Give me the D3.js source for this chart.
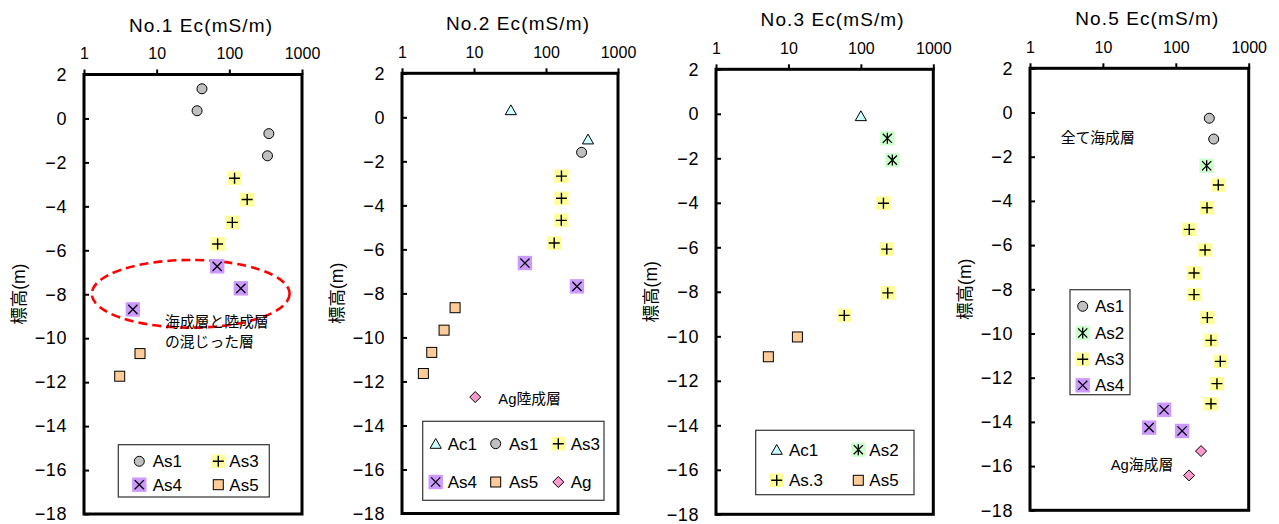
<!DOCTYPE html>
<html><head><meta charset="utf-8">
<script src="https://cdn.jsdelivr.net/npm/d3@7"></script>
<style>
body{margin:0;background:#fff}
text{font-family:"Liberation Sans","Noto Sans CJK JP",sans-serif;fill:#000}
</style>
</head><body>
<svg id="c" width="1279" height="524"></svg>
<script>
// ---------- data ----------
const panelNames = ["No.1", "No.2", "No.3", "No.5"];
const xTickValues = [1, 10, 100, 1000];
const yTickValues = [2, 0, -2, -4, -6, -8, -10, -12, -14, -16, -18];
const axisTitleX = "Ec(mS/m)";
const axisTitleY = "標高(m)";

// [Ec (mS/m), elevation (m)]
const no1_As1 = [[42, 1.35], [36, 0.35], [350, -0.69], [335, -1.70]];
const no1_As3 = [[118, -2.72], [176, -3.69], [110, -4.73], [69, -5.71]];
const no1_As4 = [[68, -6.73], [144, -7.73], [4.7, -8.69]];
const no1_As5 = [[5.9, -10.70], [3.1, -11.73]];

const no2_Ac1 = [[32.5, 0.33], [383, -1.0]];
const no2_As1 = [[312, -1.59]];
const no2_As3 = [[164, -2.67], [164, -3.68], [163, -4.68], [130, -5.71]];
const no2_As4 = [[51, -6.62], [269, -7.68]];
const no2_As5 = [[5.46, -8.65], [3.84, -9.67], [2.59, -10.68], [1.98, -11.64]];
const no2_Ag  = [[10.4, -12.71]];

const no3_Ac1 = [[100, -0.1]];
const no3_As2 = [[232, -1.10], [272, -2.08]];
const no3_As3 = [[205, -4.02], [228, -6.08], [235, -8.05], [59, -9.06]];
const no3_As5 = [[13.3, -10.03], [5.28, -10.92]];

const no5_As1 = [[288, -0.26], [331, -1.20]];
const no5_As2 = [[265, -2.41]];
const no5_As3 = [[383, -3.28], [268, -4.31], [153, -5.29], [252, -6.22], [178, -7.26], [178, -8.24],
                 [271, -9.28], [304, -10.31], [408, -11.26], [367, -12.27], [304, -13.18]];
const no5_As4 = [[69, -13.45], [43, -14.26], [122, -14.41]];
const no5_Ag  = [[222, -15.32], [152, -16.42]];

// mixed-layer zone of No.1 (Ec range, elevation range)
const no1_mixedZone = [1.28, 675, -6.44, -9.52];

// ---------- styles ----------
const markerStyle = {
  Ac1: "triangle", As1: "circle", As2: "asterisk", As3: "plus", "As.3": "plus",
  As4: "cross", As5: "square", Ag: "diamond"
};

// ---------- layout ----------
const panels = [
  { name: panelNames[0], left: 84, right: 302, top: 74.5, bottom: 514,
    series: [["As1", no1_As1], ["As3", no1_As3], ["As4", no1_As4], ["As5", no1_As5]],
    legendBox: [118.3, 444.7, 151, 52.3],
    legend: [["As1", 139.3, 152.7, 461.3], ["As3", 218.3, 229.3, 461.3],
             ["As4", 139.3, 152.7, 484.7], ["As5", 218.3, 229.3, 484.7]],
    notes: [["海成層と陸成層", 165, 322], ["の混じった層", 165, 341.5]] },
  { name: panelNames[1], left: 402, right: 618, top: 73.3, bottom: 513.5,
    series: [["Ac1", no2_Ac1], ["As1", no2_As1], ["As3", no2_As3], ["As4", no2_As4], ["As5", no2_As5], ["Ag", no2_Ag]],
    legendBox: [422.7, 421.3, 181.3, 79],
    legend: [["Ac1", 435.7, 447.7, 443.7], ["As1", 495.7, 509, 443.7], ["As3", 558.3, 570.7, 443.7],
             ["As4", 435.7, 447.7, 482], ["As5", 495.7, 509, 482], ["Ag", 558.3, 570.7, 482]],
    notes: [["Ag陸成層", 498.3, 398.7]] },
  { name: panelNames[2], left: 716, right: 933.3, top: 69.3, bottom: 514.3,
    series: [["Ac1", no3_Ac1], ["As2", no3_As2], ["As3", no3_As3], ["As5", no3_As5]],
    legendBox: [755.7, 430.3, 158.3, 64.4],
    legend: [["Ac1", 776.7, 789, 449.7], ["As2", 858.3, 869.3, 449.7],
             ["As.3", 776.7, 789, 480.3], ["As5", 858.3, 869.3, 480.3]],
    notes: [] },
  { name: panelNames[3], left: 1030, right: 1248.7, top: 68.3, bottom: 510.3,
    series: [["As1", no5_As1], ["As2", no5_As2], ["As3", no5_As3], ["As4", no5_As4], ["Ag", no5_Ag]],
    legendBox: [1070, 289.7, 60, 105],
    legend: [["As1", 1082.7, 1095, 306.3], ["As2", 1082.7, 1095, 333],
             ["As3", 1082.7, 1095, 359.3], ["As4", 1082.7, 1095, 385.3]],
    notes: [["全て海成層", 1060.7, 138.3], ["Ag海成層", 1110.7, 465.3]] }
];

const svg = d3.select("#c");

function drawMarker(g, type, cx, cy) {
  const m = g.append("g").attr("transform", `translate(${cx},${cy})`);
  if (type === "circle") {
    m.append("circle").attr("r", 5).attr("fill", "#c0c0c0").attr("stroke", "#000").attr("stroke-width", 1);
  } else if (type === "triangle") {
    m.append("path").attr("d", "M0,-5.2L5.6,4.6L-5.6,4.6Z")
      .attr("fill", "#ccffff").attr("stroke", "#000").attr("stroke-width", 1);
  } else if (type === "square") {
    m.append("rect").attr("x", -5).attr("y", -5).attr("width", 10).attr("height", 10)
      .attr("fill", "#ffcc99").attr("stroke", "#000").attr("stroke-width", 1);
  } else if (type === "diamond") {
    m.append("path").attr("d", "M0,-5.5L5.5,0L0,5.5L-5.5,0Z")
      .attr("fill", "#ff99cc").attr("stroke", "#000").attr("stroke-width", 1);
  } else if (type === "plus") {
    m.append("rect").attr("x", -7.2).attr("y", -6.8).attr("width", 14.4).attr("height", 13.6).attr("fill", "#ffff99");
    m.append("path").attr("d", "M-5.5,0H5.5M0,-5.5V5.5").attr("stroke", "#000").attr("stroke-width", 1.4);
  } else if (type === "cross") {
    m.append("rect").attr("x", -7.2).attr("y", -7.2).attr("width", 14.4).attr("height", 14.4).attr("fill", "#cc99ff");
    m.append("path").attr("d", "M-4.6,-4.6L4.6,4.6M4.6,-4.6L-4.6,4.6").attr("stroke", "#000").attr("stroke-width", 1.3);
  } else if (type === "asterisk") {
    m.append("rect").attr("x", -7.2).attr("y", -7.2).attr("width", 14.4).attr("height", 14.4).attr("fill", "#ccffcc");
    m.append("path").attr("d", "M-4.6,-4.6L4.6,4.6M4.6,-4.6L-4.6,4.6M0,-5.5V5.5").attr("stroke", "#000").attr("stroke-width", 1.3);
  }
}

panels.forEach((p, pi) => {
  const x = d3.scaleLog().domain([1, 1000]).range([p.left, p.right]);
  const y = d3.scaleLinear().domain([-18, 2]).range([p.bottom, p.top]);
  const g = svg.append("g");

  // title
  g.append("text").attr("x", (p.left + p.right) / 2 + 8).attr("y", p.top - 43)
    .attr("text-anchor", "middle").attr("font-size", 19).attr("letter-spacing", 1.1)
    .text(`${p.name} ${axisTitleX}`);

  // y-axis title
  g.append("text").attr("transform", `translate(${p.left - 65},${(p.top + p.bottom) / 2}) rotate(-90)`)
    .attr("text-anchor", "middle").attr("dy", "0.35em").attr("font-size", 17.5).text(axisTitleY);

  // top axis
  const xa = g.append("g").attr("transform", `translate(0,${p.top})`)
    .call(d3.axisTop(x).tickValues(xTickValues).tickFormat(d3.format("d")).tickSize(5).tickPadding(10.5));
  xa.select(".domain").remove();
  xa.selectAll(".tick line").attr("stroke", "#000").attr("stroke-width", 2);
  xa.selectAll(".tick text").attr("font-size", 16).attr("font-family", null);

  // left axis (ticks inward)
  const ya = g.append("g").attr("transform", `translate(${p.left},0)`)
    .call(d3.axisLeft(y).tickValues(yTickValues).tickSizeInner(-5).tickSizeOuter(0).tickPadding(17));
  ya.select(".domain").remove();
  ya.selectAll(".tick line").attr("stroke", "#000").attr("stroke-width", 2);
  ya.selectAll(".tick text").attr("font-size", 18).attr("letter-spacing", 0.6).attr("font-family", null);

  // frame
  g.append("rect").attr("x", p.left).attr("y", p.top).attr("width", p.right - p.left).attr("height", p.bottom - p.top)
    .attr("fill", "none").attr("stroke", "#000").attr("stroke-width", 3);

  // ellipse annotation (No.1)
  if (pi === 0) {
    const [e0, e1, l0, l1] = no1_mixedZone;
    const cx = (x(e0) + x(e1)) / 2, cy = (y(l0) + y(l1)) / 2;
    g.append("ellipse").attr("cx", cx).attr("cy", cy)
      .attr("rx", (x(e1) - x(e0)) / 2).attr("ry", (y(l1) - y(l0)) / 2)
      .attr("fill", "none").attr("stroke", "#ff0000").attr("stroke-width", 2.6).attr("stroke-dasharray", "9,5");
  }

  // points
  p.series.forEach(([name, pts]) => {
    pts.forEach(([ec, el]) => drawMarker(g, markerStyle[name], x(ec), y(el)));
  });

  // notes
  p.notes.forEach(([t, tx, ty]) => {
    g.append("text").attr("x", tx).attr("y", ty).attr("dy", "0.35em").attr("font-size", 14.8).text(t);
  });

  // legend
  const [bx, by, bw, bh] = p.legendBox;
  g.append("rect").attr("x", bx).attr("y", by).attr("width", bw).attr("height", bh)
    .attr("fill", "#fff").attr("stroke", "#333").attr("stroke-width", 1.2);
  p.legend.forEach(([name, mx, tx, ly]) => {
    drawMarker(g, markerStyle[name], mx, ly);
    g.append("text").attr("x", tx).attr("y", ly).attr("dy", "0.36em").attr("font-size", 17).text(name);
  });
});
</script>
</body></html>
